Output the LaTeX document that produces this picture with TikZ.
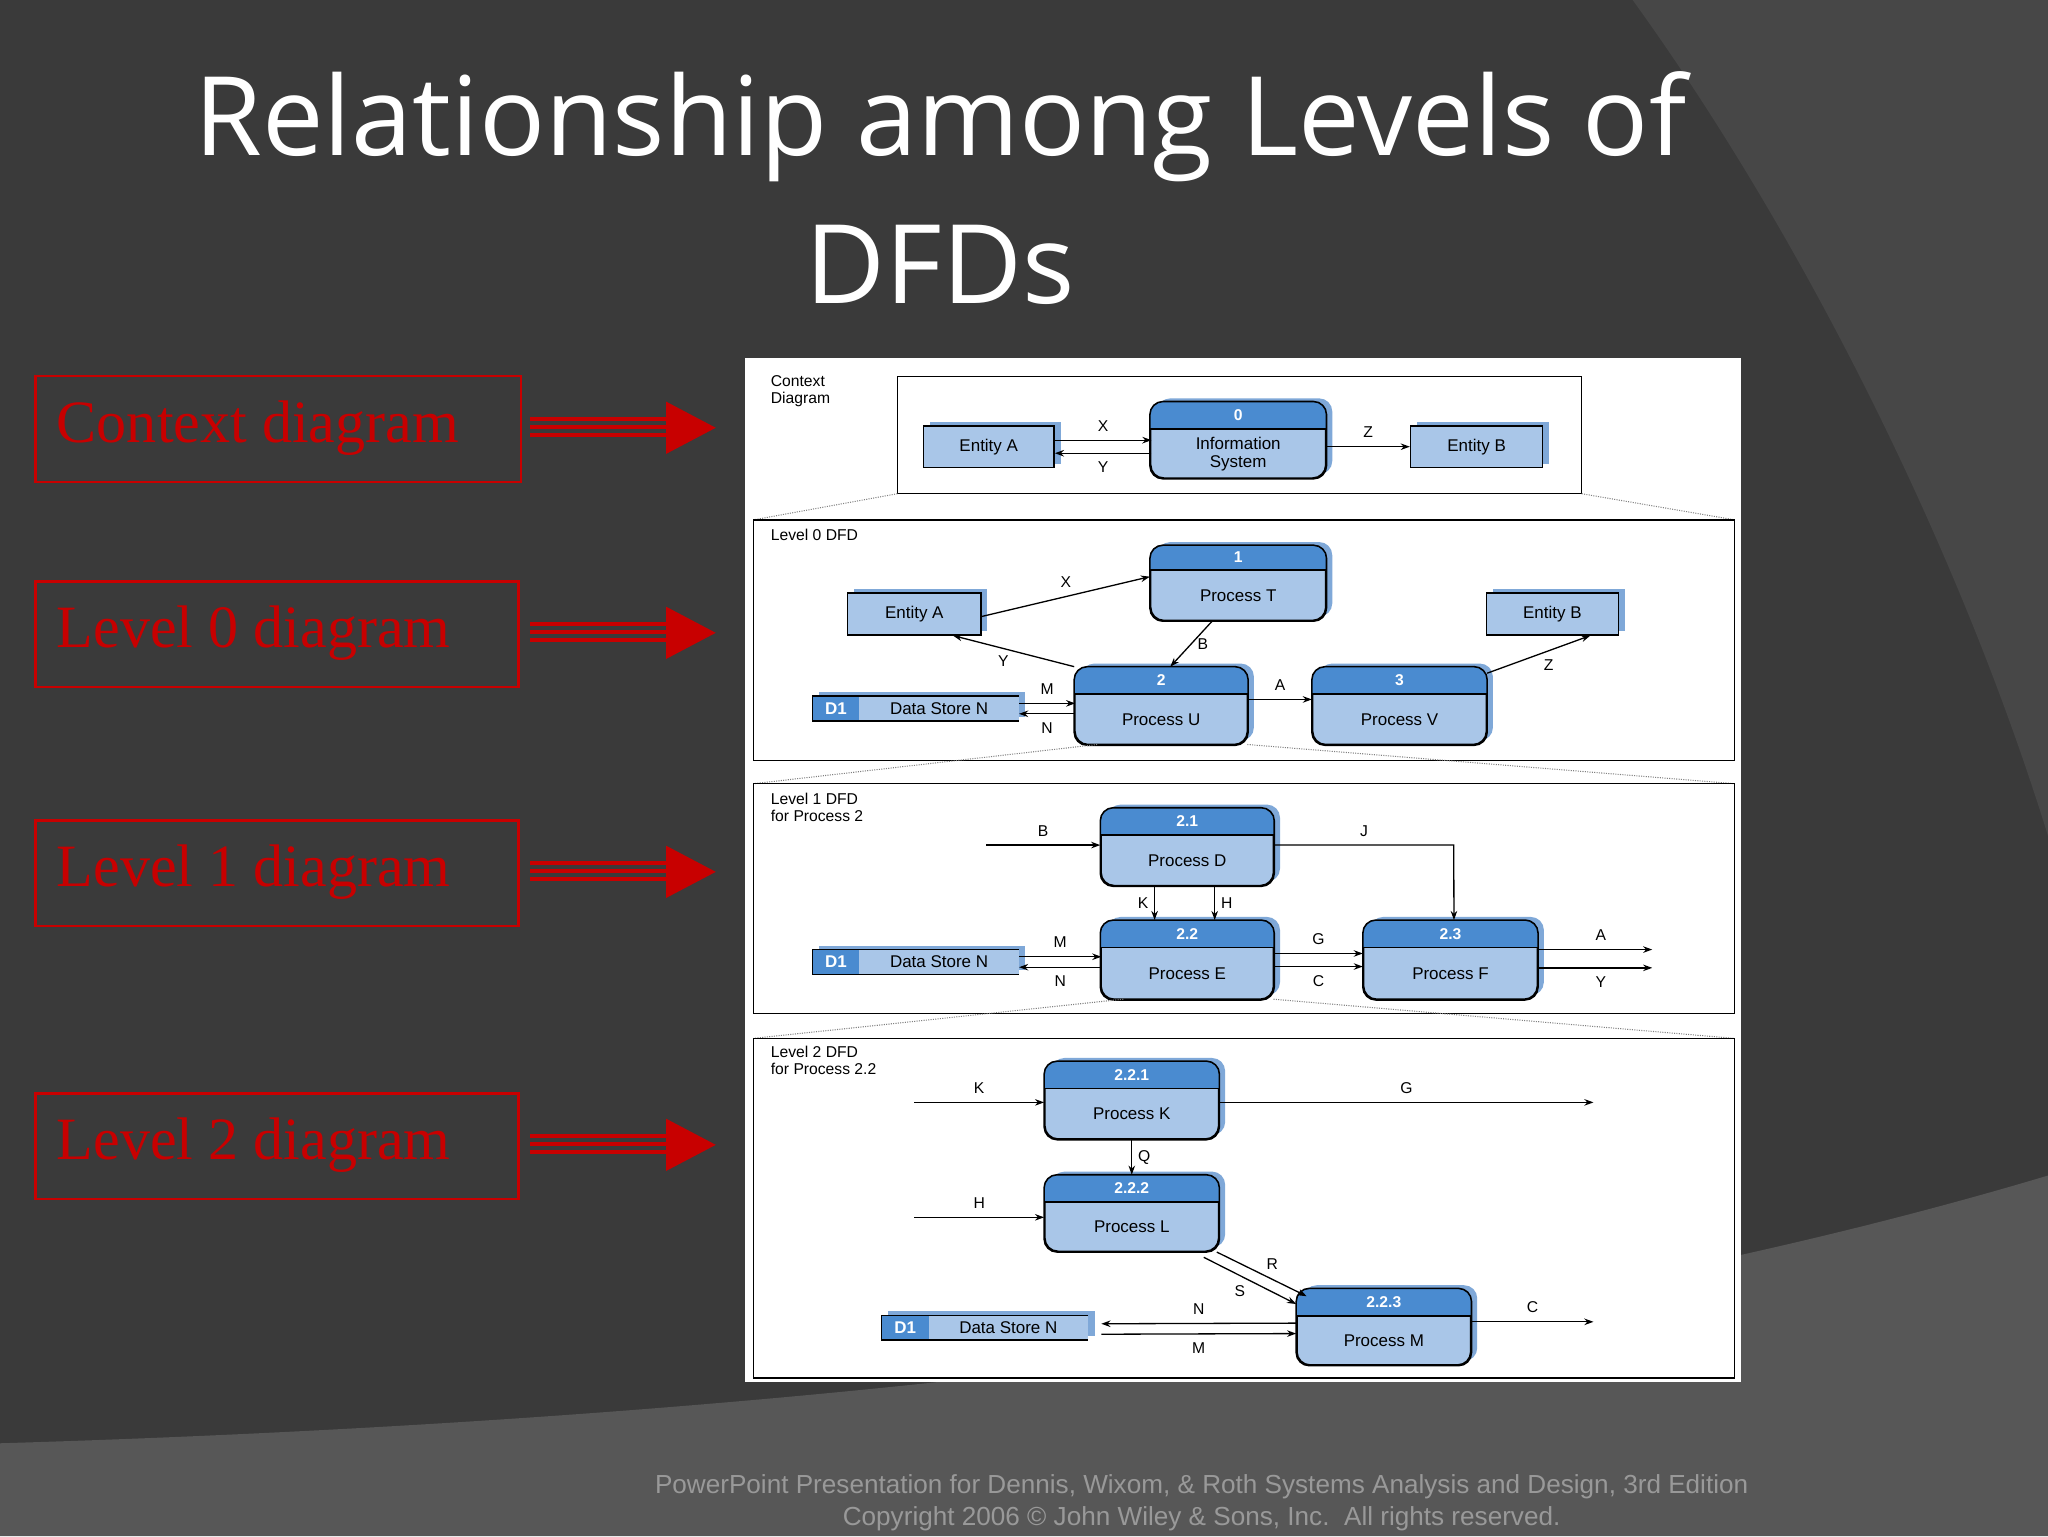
\documentclass[tikz,border=0pt]{standalone}
\usepackage{fontspec}
\setmainfont{Liberation Sans}
\newfontfamily\titlefont{Open Sans}
\newfontfamily\serifred{Liberation Serif}
\usetikzlibrary{arrows.meta,calc,fit}
\definecolor{bg}{HTML}{3A3A3A}
\definecolor{bg2}{HTML}{474747}
\definecolor{bg3}{HTML}{575757}
\definecolor{lb}{HTML}{A9C6E8}
\definecolor{db}{HTML}{4A8BD0}
\definecolor{sh}{HTML}{7FA8D8}
\definecolor{rd}{HTML}{C80000}
\tikzset{
  x=1pt,y=-1pt,
  ent/.style={draw=black,line width=1.2pt,fill=lb,inner sep=0,font=\fontsize{13}{15}\selectfont},
  procbox/.style={draw=black,line width=1.2pt,fill=lb,rounded corners=10pt,inner sep=0},
  fr/.style={draw=black,line width=1pt},
  arr/.style={draw=black,line width=1pt,-{Stealth[length=7pt,width=5pt]}},
  lab/.style={font=\fontsize{12}{14}\selectfont,text=black},
  dot/.style={draw=gray,line width=0.8pt,densely dotted},
  redbox/.style={draw=rd,line width=2pt,anchor=north west,inner sep=0},
  redtxt/.style={text=rd,font=\serifred\fontsize{46}{50}\selectfont,anchor=west},
}
\newcommand\proc[6]{%
  \fill[sh,rounded corners=10pt] ($#2+(5pt,3pt)$) rectangle ($#3+(5pt,3pt)$);
  \node[procbox,fit={#2 #3}] (#1) {};
  \begin{scope}
    \clip[rounded corners=10pt] (#1.north west) rectangle (#1.south east);
    \fill[db] (#1.north west) rectangle ($(#1.north east)+(0pt,-#4pt)$);
  \end{scope}
  \draw[line width=1.2pt] ($(#1.north west)+(0pt,-#4pt)$) -- ($(#1.north east)+(0pt,-#4pt)$);
  \draw[line width=1.2pt,rounded corners=10pt] (#1.north west) rectangle (#1.south east);
  \node[text=white,font=\bfseries\fontsize{12}{14}\selectfont] at ($(#1.north)+(0pt,-#4pt/2)$) {#5};
  \node[align=center,font=\fontsize{13}{14}\selectfont] at ($(#1.south)!0.5!(#1.north)+(0pt,-#4pt/2)$) {#6};
}
\newcommand\entity[4]{%
  \fill[sh] ($#2+(5pt,3pt)$) rectangle ($#3+(5pt,3pt)$);
  \node[ent,fit={#2 #3}] (#1) {};
  \node[font=\fontsize{13}{15}\selectfont] at (#1) {#4};
}
\newcommand\dstore[3]{% name, (x1,y1), width
  \fill[sh] ($#2+(5pt,3pt)$) rectangle ($#2+(#3,19)+(5pt,3pt)$);
  \node[fill=lb,inner sep=0,fit={#2 ($#2+(#3,19)$)}] (#1) {};
  \fill[db] #2 rectangle ($#2+(36,19)$);
  \draw[line width=1.2pt] ($#2+(#3,0)$) -- #2 -- ($#2+(0,19)$) -- ($#2+(#3,19)$);
  \node[text=white,font=\bfseries\fontsize{13}{15}\selectfont] at ($#2+(18,9.5)$) {D1};
  \node[font=\fontsize{13}{15}\selectfont] at ($#2+(18+#3/2,9.5)$) {Data Store N};
}
\begin{document}
\begin{tikzpicture}
\useasboundingbox (0,0) rectangle (1568,1176);
\fill[bg] (0,0) rectangle (1568,1176);
\fill[bg2] (1250,0) .. controls (1380,180) and (1500,420) .. (1568,640) -- (1568,0) -- cycle;
\fill[bg3] (0,1105) .. controls (500,1090) and (1100,1040) .. (1568,900) -- (1568,1176) -- (0,1176) -- cycle;
% title
\node[text=white,font=\titlefont\fontsize{84}{100}\selectfont] at (720,97) {Relationship among Levels of};
\node[text=white,font=\titlefont\fontsize{84}{100}\selectfont] at (720,203) {DFDs};
% red labels
\foreach \y/\h/\w/\t/\n in {287/81/372/Context diagram/r0,444/81/370/Level 0 diagram/r1,627/81/370/Level 1 diagram/r2,836/81/370/Level 2 diagram/r3}{
  \node[redbox,minimum width=\w,minimum height=\h] (\n) at (26,\y) {};
  \node[redtxt] at (40,\y+\h/2) {\t};
  \fill[rd] (406,\y+\h/2-8) rectangle (512,\y+\h/2-5);
  \fill[rd] (406,\y+\h/2-2) rectangle (512,\y+\h/2+1);
  \fill[rd] (406,\y+\h/2+4) rectangle (512,\y+\h/2+7);
  \fill[rd] (510,\y+\h/2-20) -- (548,\y+\h/2) -- (510,\y+\h/2+20) -- cycle;
}
% panel
\fill[white] (570,274) rectangle (1333,1058);
% context
\draw[fr] (687,288) rectangle (1211,378);
\node[align=left,anchor=north west,font=\fontsize{12}{13}\selectfont,inner sep=0] at (590,287) {Context\\Diagram};
\entity{cA}{(707,326)}{(807,358)}{Entity A}
\proc{c0}{(881,308)}{(1015,366)}{21}{0}{Information\\System}
\entity{cB}{(1080,326)}{(1181,358)}{Entity B}
\draw[arr] ($(cA.east)+(0,-5)$) -- node[lab,above=3pt]{X} ($(cA.east)+(74,-5)$);
\draw[arr] ($(cA.east)+(74,5)$) -- node[lab,below=3pt]{Y} ($(cA.east)+(0,5)$);
\draw[arr] (c0.east|-cB.west) -- node[lab,above=3pt]{Z} (cB.west);
\draw[dot] (687,378) -- (577,398);
\draw[dot] (1211,378) -- (1328,398);
% level 0
\draw[fr] (577,398) rectangle (1328,582);
\node[anchor=north west,font=\fontsize{12}{13}\selectfont,inner sep=0] at (590,405) {Level 0 DFD};
\entity{zA}{(649,454)}{(751,486)}{Entity A}
\proc{zT}{(881,418)}{(1015,475)}{19}{1}{Process T}
\entity{zB}{(1138,454)}{(1239,486)}{Entity B}
\proc{zU}{(823,511)}{(955,570)}{21}{2}{Process U}
\proc{zV}{(1005,511)}{(1138,570)}{21}{3}{Process V}
\dstore{zD}{(622,533)}{158}
\draw[arr] ($(zA.east)+(0,2)$) -- node[lab,above=3pt]{X} ($(zT.west)+(0,-5)$);
\draw[arr] (zU.north west) -- node[lab,below left=0pt]{Y} ($(zA.south east)+(-22,0)$);
\draw[arr] ($(zT.south)+(-20,0)$) -- node[lab,right=1pt]{B} ($(zU.north)+(7,0)$);
\draw[arr] ($(zD.east)+(0,-4)$) -- node[lab,above=3pt]{M} ($(zD.east)+(43,-4)$);
\draw[arr] ($(zD.east)+(43,4)$) -- node[lab,below=3pt]{N} ($(zD.east)+(0,4)$);
\draw[arr] ($(zU.east)+(0,-5)$) -- node[lab,above=3pt]{A} ($(zV.west)+(0,-5)$);
\draw[arr] ($(zV.north east)+(0,5)$) -- node[lab,below right=0pt]{Z} ($(zB.south east)+(-22,0)$);
\draw[dot] (840,570) -- (577,600);
\draw[dot] (955,570) -- (1328,600);
% level 1
\draw[fr] (577,600) rectangle (1328,776);
\node[align=left,anchor=north west,font=\fontsize{12}{13}\selectfont,inner sep=0] at (590,607) {Level 1 DFD\\for Process 2};
\proc{oD}{(843,619)}{(975,678)}{21}{2.1}{Process D}
\proc{oE}{(843,705)}{(975,765)}{21}{2.2}{Process E}
\proc{oF}{(1044,705)}{(1177,765)}{21}{2.3}{Process F}
\dstore{oS}{(622,727)}{158}
\coordinate (bIn) at (755,647);
\draw[arr] (bIn) -- node[lab,above=3pt]{B} (bIn-|oD.west);
\coordinate (jT) at (1113,647);
\draw[arr] (oD.east|-jT) -- node[lab,above=3pt,pos=0.5]{J} (jT) -- ($(oF.north west)!0.52!(oF.north east)$);
\draw[arr] ($(oD.south)+(-25,0)$) -- node[lab,left=1pt]{K} ($(oE.north)+(-25,0)$);
\draw[arr] ($(oD.south)+(21,0)$) -- node[lab,right=1pt]{H} ($(oE.north)+(21,0)$);
\draw[arr] ($(oS.east)+(0,-4)$) -- node[lab,above=3pt]{M} ($(oS.east)+(63,-4)$);
\draw[arr] ($(oS.east)+(63,4)$) -- node[lab,below=3pt]{N} ($(oS.east)+(0,4)$);
\draw[arr] ($(oE.east)+(0,-5)$) -- node[lab,above=3pt]{G} ($(oF.west)+(0,-5)$);
\draw[arr] ($(oE.east)+(0,5)$) -- node[lab,below=3pt]{C} ($(oF.west)+(0,5)$);
\coordinate (aOut) at (1265,727);
\coordinate (yOut) at (1265,741);
\draw[arr] (oF.east|-aOut) -- node[lab,above=3pt,pos=0.55]{A} (aOut);
\draw[arr] (oF.east|-yOut) -- node[lab,below=3pt,pos=0.55]{Y} (yOut);
\draw[dot] (860,765) -- (577,795);
\draw[dot] (975,765) -- (1328,795);
% level 2
\draw[fr] (577,795) rectangle (1328,1055);
\node[align=left,anchor=north west,font=\fontsize{12}{13}\selectfont,inner sep=0] at (590,801) {Level 2 DFD\\for Process 2.2};
\proc{tK}{(800,813)}{(933,872)}{21}{2.2.1}{Process K}
\proc{tL}{(800,900)}{(933,958)}{21}{2.2.2}{Process L}
\proc{tM}{(993,987)}{(1126,1045)}{21}{2.2.3}{Process M}
\dstore{tS}{(675,1007)}{158}
\coordinate (kIn) at (700,844);
\coordinate (gOut) at (1220,844);
\coordinate (hIn) at (700,932);
\coordinate (cOut) at (1220,1012);
\draw[arr] (kIn) -- node[lab,above=3pt]{K} (kIn-|tK.west);
\draw[arr] (tK.east|-gOut) -- node[lab,above=3pt]{G} (gOut);
\draw[arr] (tK.south) -- node[lab,right=1pt]{Q} (tL.north);
\draw[arr] (hIn) -- node[lab,above=3pt]{H} (hIn-|tL.west);
\draw[arr] ($(tL.south east)+(-2,0)$) -- node[lab,above right=0pt]{R} ($(tM.north west)+(8,6)$);
\draw[arr] ($(tL.south east)+(-12,4)$) -- node[lab,below left=0pt]{S} ($(tM.north west)+(0,12)$);
\draw[arr] ($(tM.west)+(0,-3)$) -- node[lab,above=3pt]{N} ($(tS.east)+(10,-3)$);
\draw[arr] ($(tS.east)+(10,5)$) -- node[lab,below=3pt]{M} ($(tM.west)+(0,5)$);
\draw[arr] (tM.east|-cOut) -- node[lab,above=3pt]{C} (cOut);
% footer
\node[text=gray!80,font=\fontsize{20}{24}\selectfont] at (920,1138) {PowerPoint Presentation for Dennis, Wixom, \& Roth Systems Analysis and Design, 3rd Edition};
\node[text=gray!80,font=\fontsize{20}{24}\selectfont] at (920,1163) {Copyright 2006 © John Wiley \& Sons, Inc.\ \ All rights reserved.};
\end{tikzpicture}
\end{document}
